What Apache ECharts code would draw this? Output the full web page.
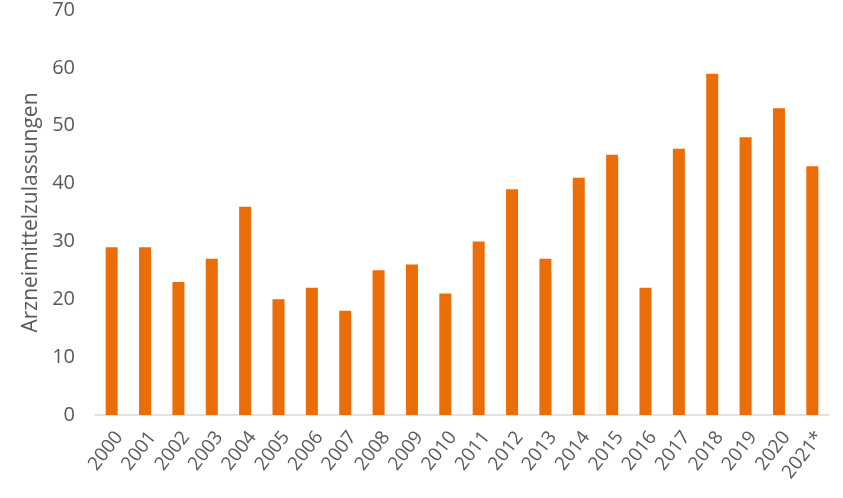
<!DOCTYPE html>
<html>
<head>
<meta charset="utf-8">
<script src="https://cdn.jsdelivr.net/npm/echarts@6/dist/echarts.min.js"></script>
<style>html,body{margin:0;padding:0;background:#fff;}#c{width:843px;height:498px;}</style>
</head>
<body>
<div id="c"></div>
<script>
const categories = ['2000','2001','2002','2003','2004','2005','2006','2007','2008','2009','2010','2011','2012','2013','2014','2015','2016','2017','2018','2019','2020','2021*'];
const values = [29,29,23,27,36,20,22,18,25,26,21,30,39,27,41,45,22,46,59,48,53,43];
const yAxisName = 'Arzneimittelzulassungen';

const chart = echarts.init(document.getElementById('c'));
chart.setOption({
  animation: false,
  textStyle: { fontFamily: 'Open Sans' },
  grid: { left: 95, right: 14, top: 10, bottom: 83 },
  xAxis: {
    type: 'category',
    data: categories,
    axisLine: { lineStyle: { color: '#d9d9d9', width: 1.5 } },
    axisTick: { show: false },
    axisLabel: { rotate: 52, color: '#595959', fontSize: 19, margin: 13, interval: 0, verticalAlign: 'top' }
  },
  yAxis: {
    type: 'value',
    min: 0, max: 70, interval: 10,
    name: yAxisName,
    nameLocation: 'middle',
    nameGap: 49,
    nameTextStyle: { color: '#595959', fontSize: 21 },
    axisLine: { show: false },
    axisTick: { show: false },
    splitLine: { show: false },
    axisLabel: { color: '#595959', fontSize: 20, margin: 20 }
  },
  series: [{
    type: 'bar',
    data: values,
    barWidth: '36%',
    itemStyle: { color: '#EA6D08' }
  }]
});
</script>
</body>
</html>
